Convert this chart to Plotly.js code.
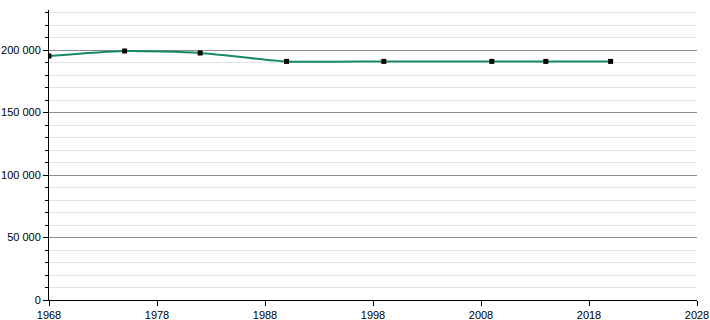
<!DOCTYPE html>
<html>
<head>
<meta charset="utf-8">
<script src="https://cdn.plot.ly/plotly-3.0.1.min.js"></script>
<style>html,body{margin:0;padding:0;background:#fff;}#chart{width:710px;height:320px;}</style>
</head>
<body>
<div id="chart"></div>
<script>
var years = [1968, 1975, 1982, 1990, 1999, 2009, 2014, 2020];
var population = [195200, 199200, 197600, 190900, 190900, 190900, 190900, 190900];
var xTickVals = [1968, 1978, 1988, 1998, 2008, 2018, 2028];

var trace = {
  x: years,
  y: population,
  type: 'scatter',
  mode: 'lines+markers',
  line: {color: '#16896a', width: 2, shape: 'spline', smoothing: 0.6},
  marker: {symbol: 'square', size: 5, color: '#000'},
  hoverinfo: 'x+y'
};

var layout = {
  width: 710, height: 320,
  margin: {l: 49, r: 13, t: 10, b: 20},
  paper_bgcolor: '#fff', plot_bgcolor: '#fff',
  separators: ', ',
  showlegend: false,
  font: {family: 'Liberation Sans, Arial, sans-serif', size: 11, color: '#000'},
  xaxis: {
    range: [1968, 2028],
    tickvals: xTickVals,
    ticktext: xTickVals.map(String),
    showgrid: false, zeroline: false,
    showline: true, linecolor: '#000', linewidth: 1,
    ticks: 'outside', ticklen: 5, tickcolor: '#000',
    tickfont: {size: 11}
  },
  yaxis: {
    range: [0, 232000],
    dtick: 50000, tick0: 0,
    tickformat: ',d',
    showgrid: true, gridcolor: '#8c8c8c', gridwidth: 1,
    zeroline: false,
    showline: true, linecolor: '#000', linewidth: 1,
    ticks: 'outside', ticklen: 5, tickcolor: '#000',
    tickfont: {size: 11},
    minor: {dtick: 10000, tick0: 0, showgrid: true, gridcolor: '#e4e4e4', gridwidth: 1,
            ticks: 'outside', ticklen: 3, tickcolor: '#000'}
  }
};

Plotly.newPlot('chart', [trace], layout, {displayModeBar: false, staticPlot: true});
</script>
</body>
</html>
